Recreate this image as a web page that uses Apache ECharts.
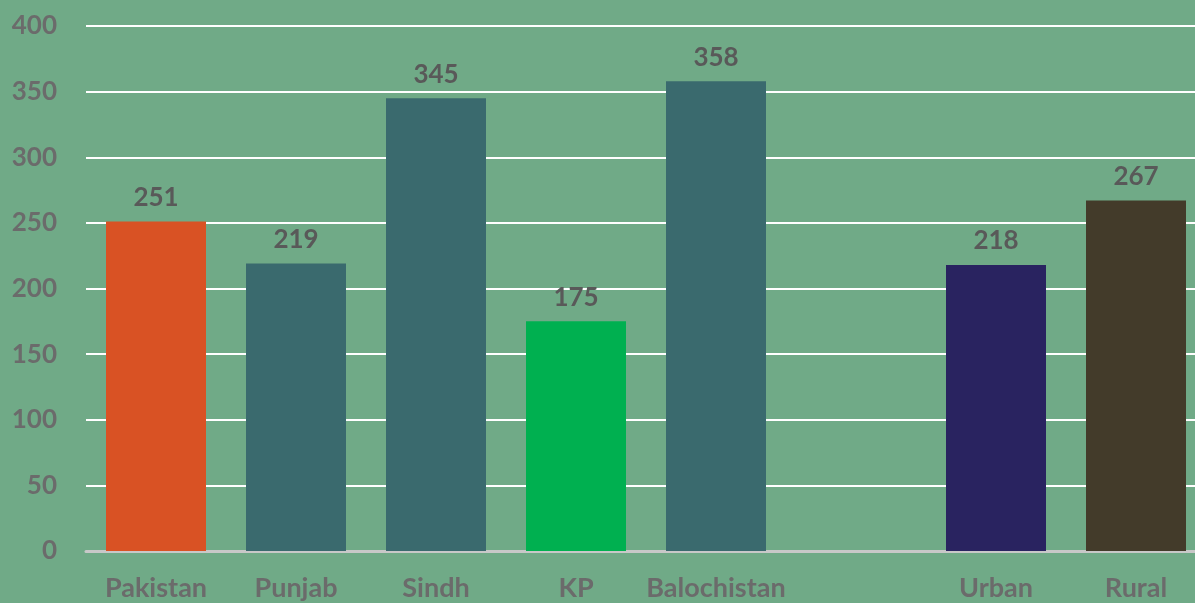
<!DOCTYPE html>
<html>
<head>
<meta charset="utf-8">
<script src="https://cdn.jsdelivr.net/npm/echarts@6/dist/echarts.min.js"></script>
<style>
  html, body { margin: 0; padding: 0; background: #70aa87; overflow: hidden; }
  #main { width: 1195px; height: 603px; }
</style>
</head>
<body>
<div id="main"></div>
<script>
// data (empty slot between provinces and urban/rural)
var categories = ['Pakistan', 'Punjab', 'Sindh', 'KP', 'Balochistan', '', 'Urban', 'Rural'];
var values = [251, 219, 345, 175, 358, null, 218, 267];
var yTicks = [0, 50, 100, 150, 200, 250, 300, 350, 400];

// bar colours, one per category
var barColors = ['#d95224', '#3a6a6e', '#3a6a6e', '#00b050', '#3a6a6e', '#3a6a6e', '#292360', '#433b2a'];

var myChart = echarts.init(document.getElementById('main'), null, { renderer: 'canvas' });

myChart.setOption({
    backgroundColor: '#70aa87',
    animation: false,
    grid: {
        left: 86,
        width: 1120, // plot runs past the right edge, as in the picture
        top: 26,
        bottom: 52,
        containLabel: false,
        outerBoundsMode: 'none'
    },
    xAxis: {
        type: 'category',
        data: categories,
        axisTick: { show: false },
        axisLine: { lineStyle: { color: '#c8c8c8', width: 3 } },
        axisLabel: {
            color: '#6b6b6b',
            fontFamily: 'Lato',
            fontWeight: 'bold',
            fontSize: 27,
            margin: 24,
            interval: 0
        }
    },
    yAxis: {
        type: 'value',
        min: yTicks[0],
        max: yTicks[yTicks.length - 1],
        interval: 50,
        axisLine: { show: false },
        axisTick: { show: false },
        splitLine: { lineStyle: { color: '#ffffff', width: 2 } },
        axisLabel: {
            color: '#6b6b6b',
            fontFamily: 'Lato',
            fontWeight: 'bold',
            fontSize: 26,
            margin: 29
        }
    },
    series: [{
        type: 'bar',
        barWidth: 100,
        data: values.map(function (v, i) {
            return { value: v, itemStyle: { color: barColors[i] } };
        }),
        label: {
            show: true,
            position: 'top',
            distance: 11,
            color: '#595959',
            fontFamily: 'Lato',
            fontWeight: 'bold',
            fontSize: 26
        }
    }]
});
</script>
</body>
</html>
